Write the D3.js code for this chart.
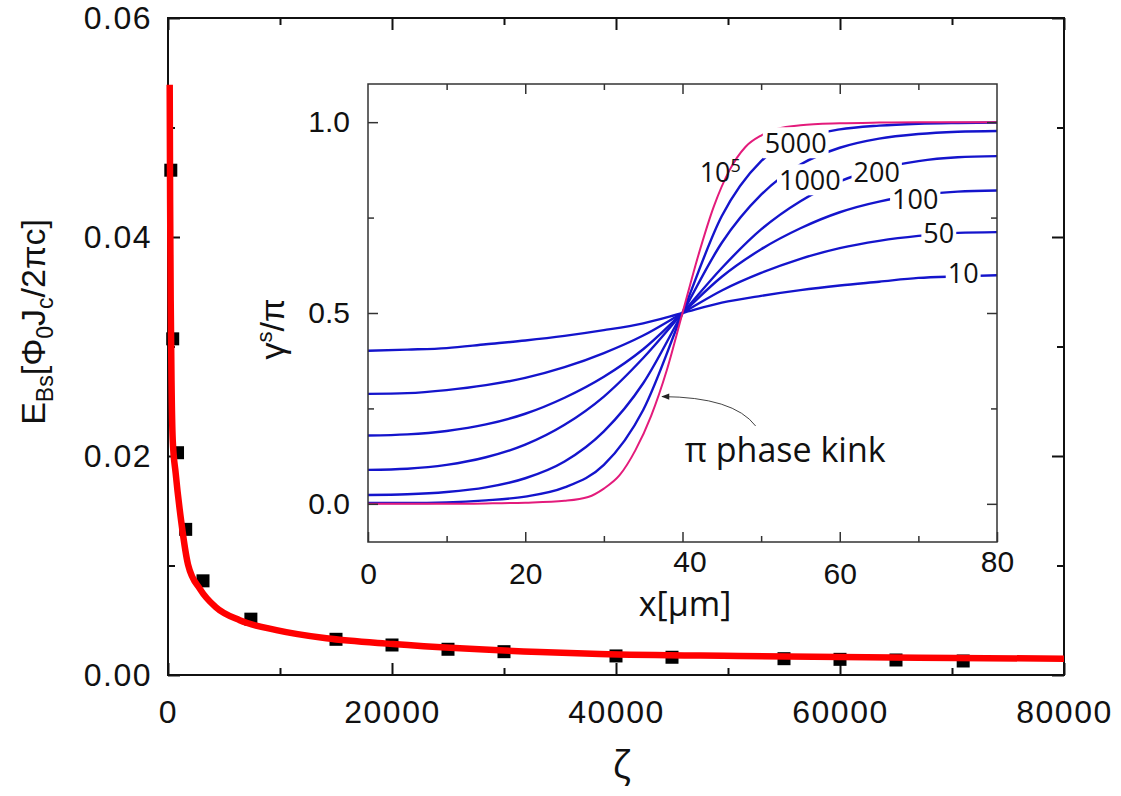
<!DOCTYPE html>
<meta charset="utf-8">
<style type="text/css">
body {
  margin: 0;
  background: #fff;
}

svg text {
  font-family: "Liberation Sans", Arial, sans-serif;
  fill: #111;
}

.axis path.domain {
  display: none;
}

.main .axis line {
  stroke: #111;
  stroke-width: 2px;
}

.inset .axis line {
  stroke: #333;
  stroke-width: 1.5px;
}

.soft {
  font-family: "Open Sans", "Noto Sans", sans-serif;
}
</style>
<body>
</body>
<script src="https://d3js.org/d3.v7.min.js"></script>
<script>
/* main panel: E_Bs against zeta */
var zetaPts   = [250, 420, 850, 1580, 3125, 7400, 15000, 20000, 25000, 30000, 40000, 45000, 55000, 60000, 65000, 71000];
var energyPts = [0.0461, 0.0307, 0.0203, 0.0133, 0.0086, 0.0051, 0.00326, 0.00274, 0.00235, 0.00213, 0.00174, 0.00162, 0.00149, 0.00143, 0.00137, 0.00128];

var zetaFit   = [152, 188, 241, 313, 420, 688, 1196, 1786, 2893, 4259, 6402, 9679, 14143, 20089, 26045, 33188, 38545, 51000, 67000, 80000];
var energyFit = [0.0539, 0.0434, 0.0342, 0.0269, 0.0215, 0.0184, 0.0139, 0.0101, 0.0078, 0.0062, 0.0050, 0.0041, 0.00335, 0.00283, 0.00244, 0.0021, 0.00192, 0.00174, 0.00158, 0.00149];

var zetaTicks = [0, 20000, 40000, 60000, 80000];
var zetaMinor = [10000, 30000, 50000, 70000];
var energyTicks = [0, 0.02, 0.04, 0.06];
var energyMinor = [0.01, 0.03, 0.05];

/* inset: gamma^s / pi against x[um] */
var insetX = [0, 5, 10, 15, 20, 25, 30, 35, 40, 45, 50, 55, 60, 65, 70, 75, 80];
var gamma10   = [0.401, 0.404, 0.408, 0.418, 0.428, 0.440, 0.455, 0.473, 0.5, 0.527, 0.545, 0.560, 0.572, 0.582, 0.592, 0.596, 0.599];
var gamma50   = [0.288, 0.290, 0.298, 0.311, 0.330, 0.358, 0.395, 0.441, 0.5, 0.559, 0.605, 0.642, 0.670, 0.689, 0.702, 0.710, 0.712];
var gamma100  = [0.179, 0.182, 0.191, 0.208, 0.236, 0.278, 0.333, 0.405, 0.5, 0.595, 0.667, 0.722, 0.764, 0.792, 0.809, 0.818, 0.821];
var gamma200  = [0.089, 0.092, 0.102, 0.122, 0.155, 0.207, 0.281, 0.382, 0.5, 0.618, 0.719, 0.793, 0.845, 0.878, 0.898, 0.908, 0.911];
var gamma1000 = [0.023, 0.025, 0.031, 0.043, 0.067, 0.111, 0.190, 0.316, 0.5, 0.684, 0.810, 0.889, 0.933, 0.957, 0.969, 0.975, 0.977];
var gamma5000 = [0.002, 0.002, 0.0035, 0.009, 0.019, 0.043, 0.102, 0.246, 0.5, 0.754, 0.898, 0.957, 0.981, 0.991, 0.996, 0.998, 0.999];

var kinkX     = [0, 10, 15, 20, 25, 28, 30, 32, 34, 36, 38, 40, 42, 44, 46, 48, 50, 52, 55, 60, 65, 70, 80];
var gammaKink = [0, 0, 0.001, 0.003, 0.008, 0.018, 0.04, 0.075, 0.14, 0.23, 0.35, 0.5, 0.65, 0.78, 0.875, 0.935, 0.965, 0.982, 0.992, 0.997, 0.999, 1.0, 1.0];

var curveNames = ["10", "50", "100", "200", "1000", "5000"];
var curveSeries = [gamma10, gamma50, gamma100, gamma200, gamma1000, gamma5000];
// label anchors, in inset data units
var labelX = [75.7, 72.6, 69.6, 64.7, 56.2, 54.4];
var labelY = [0.605, 0.708, 0.797, 0.870, 0.847, 0.944];
var kinkLabelX = 44.8, kinkLabelY = 0.870;

var insetTicks = [20, 40, 60];
var insetTickLabels = [0, 20, 40, 60, 80];
var insetMinor = [10, 30, 50, 70];
var gammaTicks = [0, 0.5, 1.0];
var gammaMinor = [0.25, 0.75];

var width = 1121, height = 796;

var svg = d3.select("body").append("svg")
    .attr("width", width)
    .attr("height", height);

/* ---- main panel ---- */
var mx0 = 168, mx1 = 1064, my0 = 18, my1 = 675;

var x = d3.scaleLinear().domain([0, 80000]).range([mx0, mx1]);
var y = d3.scaleLinear().domain([0, 0.06]).range([my1, my0]);

var main = svg.append("g").attr("class", "main");

function ticksOn(g, axis, vals, size, fmt, pad) {
  g.call(axis.tickValues(vals).tickSizeInner(-size).tickSizeOuter(0)
      .tickPadding(pad || 0).tickFormat(fmt || function() { return ""; }));
}

main.append("g").attr("class", "axis").attr("transform", "translate(0," + my1 + ")")
  .call(function(g) { ticksOn(g, d3.axisBottom(x), zetaTicks, 12, d3.format("d"), 25); });
main.append("g").attr("class", "axis").attr("transform", "translate(0," + my1 + ")")
  .call(function(g) { ticksOn(g, d3.axisBottom(x), zetaMinor, 7); });
main.append("g").attr("class", "axis").attr("transform", "translate(0," + my0 + ")")
  .call(function(g) { ticksOn(g, d3.axisTop(x), zetaTicks, 12); });
main.append("g").attr("class", "axis").attr("transform", "translate(0," + my0 + ")")
  .call(function(g) { ticksOn(g, d3.axisTop(x), zetaMinor, 7); });

main.append("g").attr("class", "axis").attr("transform", "translate(" + mx0 + ",0)")
  .call(function(g) { ticksOn(g, d3.axisLeft(y), energyTicks, 12, d3.format(".2f"), 16); });
main.append("g").attr("class", "axis").attr("transform", "translate(" + mx0 + ",0)")
  .call(function(g) { ticksOn(g, d3.axisLeft(y), energyMinor, 7); });
main.append("g").attr("class", "axis").attr("transform", "translate(" + mx1 + ",0)")
  .call(function(g) { ticksOn(g, d3.axisRight(y), energyTicks, 12); });
main.append("g").attr("class", "axis").attr("transform", "translate(" + mx1 + ",0)")
  .call(function(g) { ticksOn(g, d3.axisRight(y), energyMinor, 7); });

main.selectAll(".axis text")
  .style("font-size", "32px")
  .style("letter-spacing", "1.5px")
  .attr("fill", "#111");

main.append("rect")
  .attr("x", mx0).attr("y", my0)
  .attr("width", mx1 - mx0).attr("height", my1 - my0)
  .attr("fill", "none")
  .attr("stroke", "#111")
  .attr("stroke-width", 2);

main.selectAll("rect.pt")
  .data(zetaPts)
  .enter().append("rect")
    .attr("class", "pt")
    .attr("x", function(d) { return x(d) - 6.5; })
    .attr("y", function(d, i) { return y(energyPts[i]) - 6.5; })
    .attr("width", 13)
    .attr("height", 13)
    .attr("fill", "#000");

var fitLine = d3.line()
  .x(function(d) { return x(d); })
  .y(function(d, i) { return y(energyFit[i]); })
  .curve(d3.curveMonotoneX);

main.append("path")
  .datum(zetaFit)
  .attr("d", fitLine)
  .attr("fill", "none")
  .attr("stroke", "#ff0000")
  .attr("stroke-width", 6.5)
  .attr("stroke-linejoin", "round");

// axis titles
var ylab = main.append("text")
  .attr("transform", "translate(45,322) rotate(-90)")
  .attr("text-anchor", "middle")
  .style("font-size", "34px");
ylab.append("tspan").text("E");
ylab.append("tspan").text("Bs").style("font-size", "23px").attr("dy", 8);
ylab.append("tspan").text("[Φ").attr("dy", -8);
ylab.append("tspan").text("0").style("font-size", "23px").attr("dy", 8);
ylab.append("tspan").text("J").attr("dy", -8);
ylab.append("tspan").text("c").style("font-size", "23px").attr("dy", 8);
ylab.append("tspan").text("/2πc]").attr("dy", -8);

main.append("text")
  .attr("class", "soft")
  .attr("x", (mx0 + mx1) / 2 + 6)
  .attr("y", 778)
  .attr("text-anchor", "middle")
  .style("font-size", "38px")
  .text("ζ");

/* ---- inset ---- */
var ix0 = 368, ix1 = 997, iy0 = 84, iy1 = 542;

var ix = d3.scaleLinear().domain([0, 80]).range([ix0, ix1]);
var iy = d3.scaleLinear().domain([-0.1, 1.1]).range([iy1, iy0]);

var inset = svg.append("g").attr("class", "inset");

inset.append("rect")
  .attr("x", ix0).attr("y", iy0)
  .attr("width", ix1 - ix0).attr("height", iy1 - iy0)
  .attr("fill", "#fff");

var gLine = d3.line()
  .x(function(d) { return ix(d[0]); })
  .y(function(d) { return iy(d[1]); })
  .curve(d3.curveMonotoneX);

curveSeries.forEach(function(s) {
  inset.append("path")
    .datum(insetX.map(function(v, i) { return [v, s[i]]; }))
    .attr("d", gLine)
    .attr("fill", "none")
    .attr("stroke", "#1414cc")
    .attr("stroke-width", 2.4);
});

inset.append("path")
  .datum(kinkX.map(function(v, i) { return [v, gammaKink[i]]; }))
  .attr("d", gLine)
  .attr("fill", "none")
  .attr("stroke", "#e31b7b")
  .attr("stroke-width", 2);

// curve labels on a white patch
function patchLabel(g, px, py) {
  return g.append("text")
    .attr("class", "soft")
    .attr("x", px).attr("y", py)
    .attr("text-anchor", "middle")
    .attr("dy", "0.36em")
    .style("font-size", "27px");
}

curveNames.forEach(function(name, i) {
  var g = inset.append("g");
  var t = patchLabel(g, ix(labelX[i]), iy(labelY[i])).text(name);
  var b = t.node().getBBox();
  g.insert("rect", "text")
    .attr("x", b.x - 2).attr("y", b.y + 3)
    .attr("width", b.width + 4).attr("height", b.height - 6)
    .attr("fill", "#fff");
});

var kl = patchLabel(inset.append("g"), ix(kinkLabelX), iy(kinkLabelY));
kl.append("tspan").text("10");
kl.append("tspan").text("5").style("font-size", "18px").attr("dy", -10);

// frame and ticks
inset.append("g").attr("class", "axis").attr("transform", "translate(0," + iy1 + ")")
  .call(function(g) { ticksOn(g, d3.axisBottom(ix), insetTickLabels, 10, d3.format("d"), 21); });
inset.append("g").attr("class", "axis").attr("transform", "translate(0," + iy1 + ")")
  .call(function(g) { ticksOn(g, d3.axisBottom(ix), insetMinor, 6); });
inset.append("g").attr("class", "axis").attr("transform", "translate(0," + iy0 + ")")
  .call(function(g) { ticksOn(g, d3.axisTop(ix), insetTicks, 10); });
inset.append("g").attr("class", "axis").attr("transform", "translate(0," + iy0 + ")")
  .call(function(g) { ticksOn(g, d3.axisTop(ix), insetMinor, 6); });
inset.append("g").attr("class", "axis").attr("transform", "translate(" + ix0 + ",0)")
  .call(function(g) { ticksOn(g, d3.axisLeft(iy), gammaTicks, 10, d3.format(".1f"), 18); });
inset.append("g").attr("class", "axis").attr("transform", "translate(" + ix0 + ",0)")
  .call(function(g) { ticksOn(g, d3.axisLeft(iy), gammaMinor, 6); });
inset.append("g").attr("class", "axis").attr("transform", "translate(" + ix1 + ",0)")
  .call(function(g) { ticksOn(g, d3.axisRight(iy), gammaTicks, 10); });
inset.append("g").attr("class", "axis").attr("transform", "translate(" + ix1 + ",0)")
  .call(function(g) { ticksOn(g, d3.axisRight(iy), gammaMinor, 6); });

inset.selectAll(".axis text")
  .style("font-size", "30px")
  .attr("fill", "#111");

// x tick labels in the original sit a little unevenly
inset.selectAll(".axis .tick text")
  .filter(function(d) { return d === 40 || d === 80; })
  .attr("y", 9);
inset.selectAll(".axis .tick text")
  .filter(function(d) { return d === 40; })
  .attr("x", 7);

inset.append("rect")
  .attr("x", ix0).attr("y", iy0)
  .attr("width", ix1 - ix0).attr("height", iy1 - iy0)
  .attr("fill", "none")
  .attr("stroke", "#333")
  .attr("stroke-width", 1.5);

// inset titles
var glab = inset.append("text")
  .attr("transform", "translate(284,329) rotate(-90)")
  .attr("text-anchor", "middle")
  .style("font-size", "34px");
glab.append("tspan").text("γ");
glab.append("tspan").text("s").style("font-size", "22px").attr("dy", -12);
glab.append("tspan").text("/π").attr("dy", 12);

inset.append("text")
  .attr("class", "soft")
  .attr("x", 685)
  .attr("y", 616)
  .attr("text-anchor", "middle")
  .style("font-size", "34px")
  .text("x[μm]");

// arrow to the pi kink
svg.append("defs").append("marker")
  .attr("id", "arrowhead")
  .attr("viewBox", "0 0 10 10")
  .attr("refX", 9).attr("refY", 5)
  .attr("markerWidth", 9).attr("markerHeight", 8)
  .attr("orient", "auto")
  .append("path")
    .attr("d", "M0,1L10,5L0,9Z")
    .attr("fill", "#222");

var arrow = d3.path();
arrow.moveTo(ix(49.3), iy(0.204));
arrow.quadraticCurveTo(ix(46.5), iy(0.28), ix(37.4), iy(0.281));
inset.append("path")
  .attr("d", arrow.toString())
  .attr("fill", "none")
  .attr("stroke", "#444")
  .attr("stroke-width", 1)
  .attr("marker-end", "url(#arrowhead)");

inset.append("text")
  .attr("class", "soft")
  .attr("x", ix(40.3))
  .attr("y", iy(0.11))
  .style("font-size", "34px")
  .text("π phase kink");
</script>
